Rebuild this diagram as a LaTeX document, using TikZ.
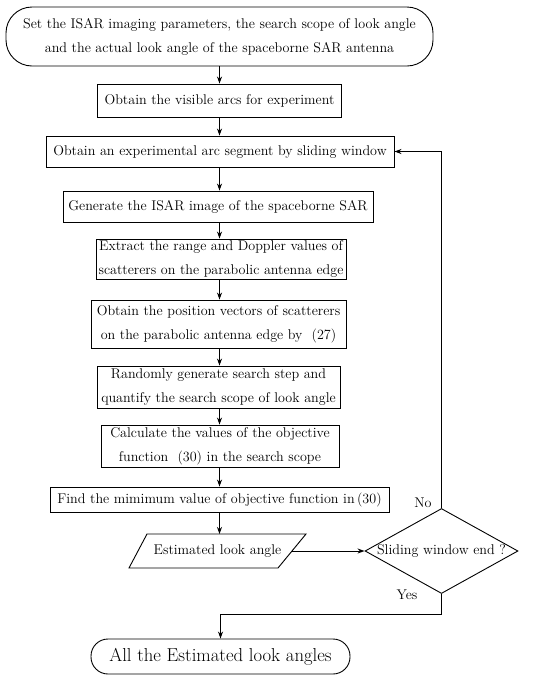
\documentclass[tikz,border=0pt]{standalone}
\usetikzlibrary{shapes.geometric,arrows.meta,calc}
\begin{document}
\begin{tikzpicture}[x=1pt,y=-1pt,
  every node/.style={font=\fontsize{14.1}{24}\selectfont},
  box/.style={draw, line width=0.9pt, inner sep=0pt, align=center},
  term/.style={box, rounded corners=26pt},
  arr/.style={-{Stealth[length=7pt,width=5pt]}, line width=0.9pt},
  ln/.style={line width=0.9pt}]
\useasboundingbox (0,0) rectangle (550,681);

\node[term, minimum width=427pt, minimum height=59pt] (start) at (219.5,36.5)
  {Set the ISAR imaging parameters, the search scope of look angle\\and the actual look angle of the spaceborne SAR antenna};
\node[box, minimum width=244pt, minimum height=33pt] (b1) at (219.5,100.5) {Obtain the visible arcs for experiment};
\node[box, minimum width=348pt, minimum height=31pt] (b2) at (220,151.5) {Obtain an experimental arc segment by sliding window};
\node[box, minimum width=310pt, minimum height=31pt] (b3) at (218,206.5) {Generate the ISAR image of the spaceborne SAR};
\node[box, minimum width=250pt, minimum height=40pt] (b4) at (221,259) {Extract the range and Doppler values of\\scatterers on the parabolic antenna edge};
\node[box, minimum width=255pt, minimum height=48pt] (b5) at (218.5,324) {Obtain the position vectors of scatterers\\on the parabolic antenna edge by\ \ (27)};
\node[box, minimum width=243pt, minimum height=42pt] (b6) at (218.5,387) {Randomly generate search step and\\quantify the search scope of look angle};
\node[box, minimum width=238pt, minimum height=42pt] (b7) at (220,446) {Calculate the values of the objective\\function\ \ (30)\ in the search scope};
\node[box, minimum width=339pt, minimum height=25pt] (b8) at (219.5,499.5) {Find the mimimum value of objective function in\,(30)};

\node[inner sep=0pt] (est) at (217.5,551) {Estimated look angle};
\draw[ln] ($(est)+(-70.5,-17)$) -- ($(est)+(88.5,-17)$) -- ($(est)+(60.5,17)$) -- ($(est)+(-88.5,17)$) -- cycle;
\coordinate (estT) at ($(est)+(0,-17)$);
\coordinate (estR) at ($(est)+(74.5,0)$);

\node[diamond, draw, line width=0.9pt, minimum width=153pt, minimum height=85pt, inner sep=0pt] (dec) at (441.5,551) {};
\node[inner sep=0pt] (dect) at (dec) {Sliding window end ?};

\node[term, rounded corners=17pt, minimum width=259pt, minimum height=35pt, font=\fontsize{18.7}{20}\selectfont] (endn) at (220.5,656.5) {All the Estimated look angles};

\node (no) at (423,503) {No};
\node (yes) at (407,595) {Yes};

\draw[arr] (start.south -| b1) -- (b1.north);
\draw[arr] (b1.south) -- (b1.south |- b2.north);
\draw[arr] (b1.south |- b2.south) -- (b1.south |- b3.north);
\draw[arr] (b1.south |- b3.south) -- (b1.south |- b4.north);
\draw[arr] (b1.south |- b4.south) -- (b1.south |- b5.north);
\draw[arr] (b1.south |- b5.south) -- (b1.south |- b6.north);
\draw[arr] (b1.south |- b6.south) -- (b1.south |- b7.north);
\draw[arr] (b1.south |- b7.south) -- (b1.south |- b8.north);
\draw[arr] (b1.south |- b8.south) -- (b1.south |- estT);
\draw[arr] (estR) -- (estR -| dec.west);
\draw[arr] (dec.north) -- (dec.north |- b2.east) -- (b2.east);
\draw[arr] (dec.south) -- ++(0,20) -| (endn.north);
\end{tikzpicture}
\end{document}
